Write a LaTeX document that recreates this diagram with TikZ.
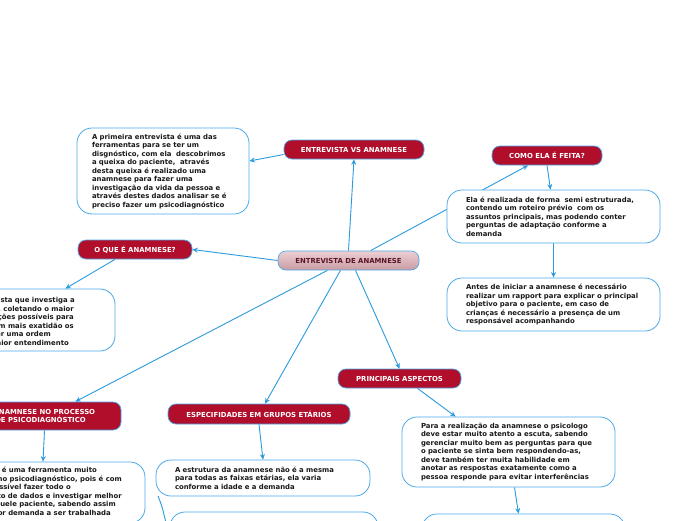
\documentclass[tikz,border=0pt]{standalone}
\usepackage{fontspec}
\setmainfont{DejaVu Sans}
\usetikzlibrary{arrows.meta,calc}
\definecolor{crim}{HTML}{B00E2A}
\definecolor{eblue}{HTML}{2B9BDF}
\definecolor{bblue}{HTML}{4BA9EA}
\definecolor{ctop}{HTML}{EDCFD3}
\definecolor{cbot}{HTML}{C89CA3}
\definecolor{ctext}{HTML}{5A1428}
\pgfdeclarelayer{bg}
\pgfsetlayers{bg,main}
\tikzset{
  hdr/.style={rectangle, rounded corners=8pt, fill=crim, draw=bblue, line width=0.7pt, text=white, font=\fontsize{6.9}{8.5}\selectfont\bfseries, inner sep=0pt, align=center},
  centerbox/.style={rectangle, rounded corners=8pt, top color=ctop, bottom color=cbot, draw=bblue, line width=0.7pt, text=ctext, font=\fontsize{6.9}{8.5}\selectfont\bfseries, inner sep=0pt},
  txtbox/.style={rectangle, rounded corners=15pt, fill=white, draw=bblue, line width=0.8pt, inner sep=0pt},
  bodytext/.style={font=\fontsize{6.9}{8.5}\selectfont\bfseries, align=left, inner sep=0pt, text=black!90},
  lineR/.style={font=\fontsize{6.9}{8.5}\selectfont\bfseries, inner sep=0pt, text=black!90, anchor=base east},
  conn/.style={draw=eblue, line width=0.9pt, -{Stealth[length=5.5pt,width=5pt]}},
  plainconn/.style={draw=eblue, line width=0.9pt},
}
\begin{document}
\begin{tikzpicture}[x=1pt,y=-1pt]
\useasboundingbox (0,0) rectangle (696,520);
% central topic
\node[centerbox, minimum width=141, minimum height=19] (c) at (348.5,260.5) {ENTREVISTA DE ANAMNESE};
% headers
\node[hdr, minimum width=140, minimum height=19] (vs) at (354,149.5) {ENTREVISTA VS ANAMNESE};
\node[hdr, minimum width=110, minimum height=19] (como) at (547,155.5) {COMO ELA É FEITA?};
\node[hdr, minimum width=114, minimum height=19] (oque) at (135,249.5) {O QUE É ANAMNESE?};
\node[hdr, minimum width=161, minimum height=28] (ap) at (40.5,416) {A ANAMNESE NO PROCESSO\\DE PSICODIAGNÓSTICO};
\node[hdr, minimum width=182, minimum height=20] (esp) at (259,414) {ESPECIFIDADES EM GRUPOS ETÁRIOS};
\node[hdr, minimum width=123, minimum height=19] (pr) at (399.5,378.5) {PRINCIPAIS ASPECTOS};
% text boxes
\node[txtbox, bodytext, minimum width=172, minimum height=86, text width=142] (tl) at (163,171) {A primeira entrevista é uma das\\ferramentas para se ter um\\disgnóstico, com ela~ descobrimos\\a queixa do paciente,~ através\\desta queixa é realizado uma\\anamnese para fazer uma\\investigação da vida da pessoa e\\através destes dados analisar se é\\preciso fazer um psicodiagnóstico};
\node[txtbox, bodytext, minimum width=213, minimum height=53, text width=175] (ela) at (553.5,216.5) {Ela é realizada de forma~ semi estruturada,\\contendo um roteiro prévio~ com os\\assuntos principais, mas podendo conter\\perguntas de adaptação conforme a\\demanda};
\node[txtbox, bodytext, minimum width=213, minimum height=53, text width=175] (antes) at (553.5,304.5) {Antes de iniciar a anamnese é necessário\\realizar um rapport para explicar o principal\\objetivo para o paciente, em caso de\\crianças é necessário a presença de um\\responsável acompanhando};
% left box (cut by the page edge)
\node[txtbox, minimum width=225, minimum height=62] (lb) at (2.5,320) {};
\node[lineR] (lb1) at (75,302.5) {A anamnese é uma entrevista que investiga a};
\node[lineR] (lb2) at (74,311) {a história do paciente, coletando o maior};
\node[lineR] (lb3) at (74,319.5) {número de informações possíveis para};
\node[lineR] (lb4) at (74,328) {compreender com mais exatidão os};
\node[lineR] (lb5) at (51,336.5) {fatos e estabelecer uma ordem};
\node[lineR] (lb6) at (69,345) {para um maior entendimento};
% bottom-left box (cut by the page edge)
\node[txtbox, minimum width=204, minimum height=61] (apb) at (43,492.5) {};
\node[lineR] (ab1) at (97,472.5) {A anamnese é uma ferramenta muito};
\node[lineR] (ab2) at (122,481) {importante no psicodiagnóstico, pois é com};
\node[lineR] (ab3) at (71,489.5) {ela que é possível fazer todo o};
\node[lineR] (ab4) at (122,498) {levantamento de dados e investigar melhor};
\node[lineR] (ab5) at (116,506.5) {sobre aquele paciente, sabendo assim};
\node[lineR] (ab6) at (111,515) {qual a maior demanda a ser trabalhada};
\node[txtbox, bodytext, minimum width=214, minimum height=36, text width=176] (estr) at (263,478) {A estrutura da anamnese não é a mesma\\para todas as faixas etárias, ela varia\\conforme a idade e a demanda};
\node[txtbox, minimum width=208, minimum height=60] (bm) at (274,542) {};
\node[txtbox, bodytext, minimum width=213, minimum height=70, text width=175] (para) at (508.5,452) {Para a realização da anamnese o psicologo\\deve estar muito atento a escuta, sabendo\\gerenciar muito bem as perguntas para que\\o paciente se sinta bem respondendo-as,\\deve também ter muita habilidade em\\anotar as respostas exatamente como a\\pessoa responde para evitar interferências};
\node[txtbox, minimum width=203, minimum height=60] (br) at (523.5,544) {};
\coordinate (k1) at (158,496);
\coordinate (k2) at (166,523);
% connectors
\begin{pgfonlayer}{bg}
\fill[white] (0,0) rectangle (696,520);
\draw[conn] (c.north) -- (vs.south);
\draw[conn] ($(vs.west)+(0,5)$) -- ($(tl.east)+(0,-10)$);
\draw[conn] ($(c.north)+(22,0)$) -- ($(como.south)+(-19,0)$);
\draw[conn] (como.south) -- ($(ela.north)+(-3,0)$);
\draw[conn] (ela.south) -- (antes.north);
\draw[conn] (c.west) -- (oque.east);
\draw[conn] ($(oque.south)+(-20,0)$) -- ($(lb.north east)+(-50,0)$);
\draw[conn] ($(c.south)+(-21,0)$) -- ($(ap.north east)+(-46,0)$);
\draw[conn] ($(c.south)+(-8,0)$) -- ($(esp.north)+(6,0)$);
\draw[conn] ($(c.south)+(7,0)$) -- (pr.north);
\draw[conn] ($(pr.south)+(18,0)$) -- ($(para.north west)+(54,0)$);
\draw[conn] ($(para.south)+(6,0)$) -- ($(br.north)+(-5,0)$);
\draw[conn] ($(ap.south)+(4,0)$) -- (apb.north);
\draw[conn] (esp.south) -- (estr.north);
\draw[plainconn] (k1) .. controls (162,506) .. (k2);
\end{pgfonlayer}
\end{tikzpicture}
\end{document}
